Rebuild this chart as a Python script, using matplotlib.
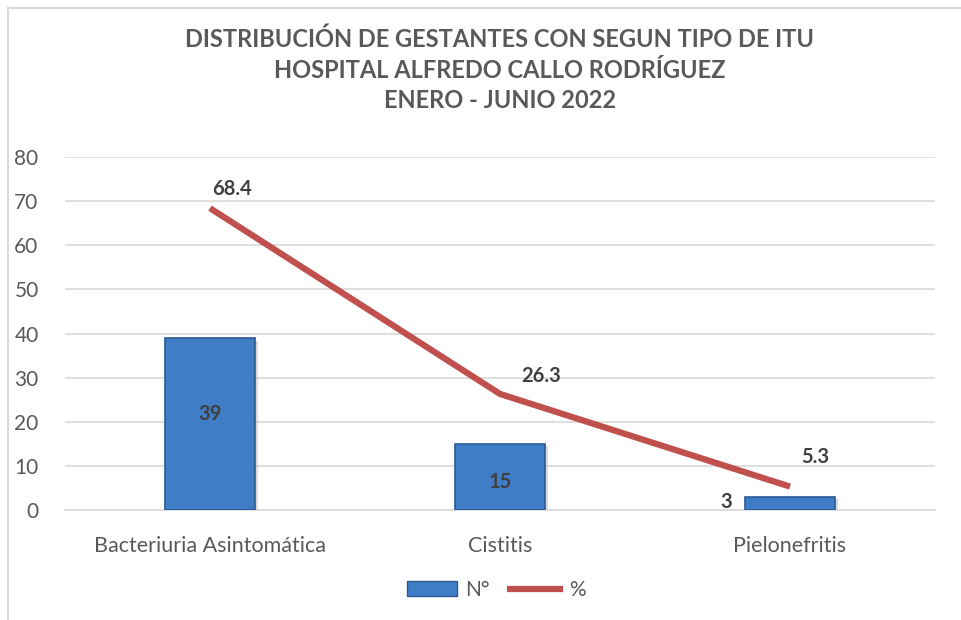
import matplotlib
matplotlib.use("Agg")
import matplotlib.pyplot as plt
from matplotlib.patches import Rectangle
from matplotlib.lines import Line2D

categories = ["Bacteriuria Asintomática", "Cistitis", "Pielonefritis"]
counts = [39, 15, 3]
percents = [68.4, 26.3, 5.3]
yticks = [0, 10, 20, 30, 40, 50, 60, 70, 80]
title = "DISTRIBUCIÓN DE GESTANTES CON SEGUN TIPO DE ITU\nHOSPITAL ALFREDO CALLO RODRÍGUEZ\nENERO - JUNIO 2022"

plt.rcParams['font.family'] = ['Lato', 'DejaVu Sans']
txt = '#595959'
lab = '#404040'

fig = plt.figure(figsize=(9.61, 6.2), dpi=100)
fig.patch.set_facecolor('white')

# outer frame (partially visible)
fig.add_artist(Line2D([8/961, 8/961], [0, 1-8/620], transform=fig.transFigure, color='#D9D9D9', lw=1.5))
fig.add_artist(Line2D([8/961, 1], [1-8/620, 1-8/620], transform=fig.transFigure, color='#D9D9D9', lw=1.5))

ax = fig.add_axes([65/961, 1-510/620, 870/961, (510-157)/620])
x = list(range(len(categories)))

# shadow
ax.bar([xi + 0.012 for xi in x], counts, width=0.31, bottom=-0.6, color='#BBBBBB', alpha=0.5, zorder=2)
bars = ax.bar(x, counts, width=0.31, color='#3F7DC6', edgecolor='#2B5A92', linewidth=1.2, zorder=3)
ax.plot(x, percents, color='#C0504D', lw=4.5, zorder=4, solid_capstyle='butt')

ax.set_xlim(-0.5, 2.5)
ax.set_ylim(0, 80)
ax.set_yticks(yticks)
ax.set_xticks(x)
ax.set_xticklabels(categories, fontsize=15.5, color=txt)
ax.tick_params(axis='x', length=0, pad=19)
ax.tick_params(axis='y', length=0, pad=19, labelsize=15, labelcolor=txt)
ax.grid(axis='y', color='#D9D9D9', lw=1.2, zorder=0)
ax.set_axisbelow(True)
for s in ['top', 'right', 'left']:
    ax.spines[s].set_visible(False)
ax.spines['bottom'].set_color('#D9D9D9')
ax.spines['bottom'].set_linewidth(1.2)

# count labels
ax.text(x[0], counts[0] / 2 + 2.3, str(counts[0]), ha='center', va='center', fontsize=14.5, fontweight='bold', color=lab, zorder=5)
ax.text(x[1], counts[1] / 2 - 1.2, str(counts[1]), ha='center', va='center', fontsize=14.5, fontweight='bold', color=lab, zorder=5)
ax.text(x[2] - 0.22, counts[2] / 2 + 0.2, str(counts[2]), ha='center', va='center', fontsize=14.5, fontweight='bold', color=lab, zorder=5)

# percent labels
offsets = [(16, 14), (30, 13), (18, 21)]
for xi, p, off in zip(x, percents, offsets):
    ax.annotate(f"{p}", (xi, p), xytext=off, textcoords='offset points', ha='center', va='center',
                fontsize=14.5, fontweight='bold', color=lab, zorder=5)

fig.text(0.52, 1-70/620, title, ha='center', va='center', fontsize=17, fontweight='bold', color=txt, linespacing=1.4)

# legend
handles = [Rectangle((0, 0), 1, 1, facecolor='#3F7DC6', edgecolor='#2B5A92'),
           Line2D([0], [0], color='#C0504D', lw=4.5)]
fig.legend(handles, ["N°", "%"], loc='center', bbox_to_anchor=(496/961, 1-590/620), ncol=2, frameon=False,
           fontsize=15, labelcolor=txt, handlelength=2.4, handleheight=0.7, columnspacing=1.0, handletextpad=0.4)

fig.savefig("out.png", dpi=100)
